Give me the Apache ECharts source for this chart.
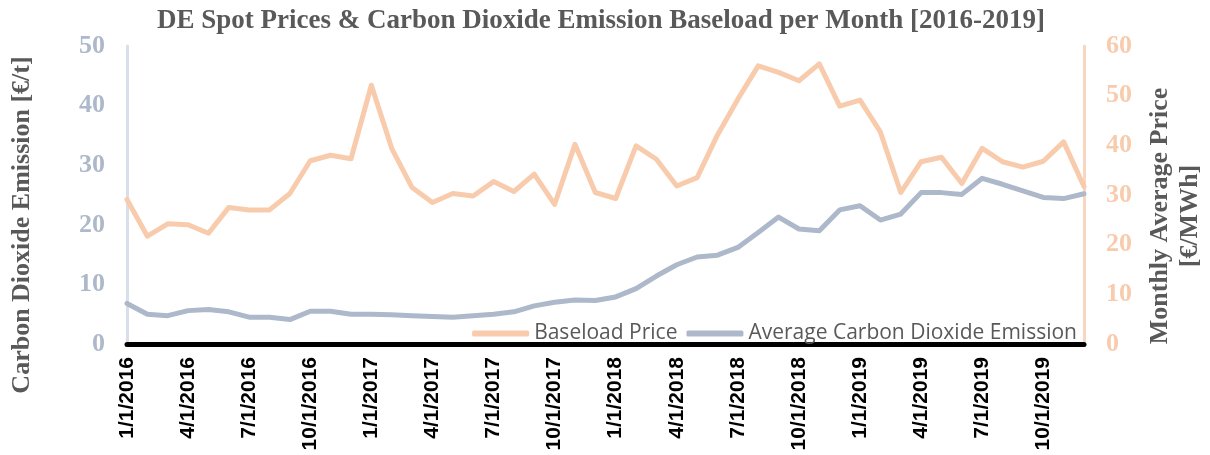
<!DOCTYPE html>
<html>
<head>
<meta charset="utf-8">
<script src="https://cdn.jsdelivr.net/npm/echarts@6/dist/echarts.min.js"></script>
<style>
  html, body { margin: 0; padding: 0; background: #fff; }
  #chart { width: 1210px; height: 455px; }
</style>
</head>
<body>
<div id="chart"></div>
<script>
// Month labels (first day of each month, 2016-2019)
const months = [
  '1/1/2016','2/1/2016','3/1/2016','4/1/2016','5/1/2016','6/1/2016','7/1/2016','8/1/2016','9/1/2016','10/1/2016','11/1/2016','12/1/2016',
  '1/1/2017','2/1/2017','3/1/2017','4/1/2017','5/1/2017','6/1/2017','7/1/2017','8/1/2017','9/1/2017','10/1/2017','11/1/2017','12/1/2017',
  '1/1/2018','2/1/2018','3/1/2018','4/1/2018','5/1/2018','6/1/2018','7/1/2018','8/1/2018','9/1/2018','10/1/2018','11/1/2018','12/1/2018',
  '1/1/2019','2/1/2019','3/1/2019','4/1/2019','5/1/2019','6/1/2019','7/1/2019','8/1/2019','9/1/2019','10/1/2019','11/1/2019','12/1/2019'
];

// Monthly average baseload spot price [€/MWh]
const baseloadPrice = [
  29.1, 21.7, 24.2, 24.0, 22.3, 27.5, 27.0, 27.0, 30.3, 36.9, 38.0, 37.3,
  52.1, 39.4, 31.5, 28.5, 30.3, 29.8, 32.7, 30.7, 34.2, 28.1, 40.2, 30.5,
  29.3, 39.9, 37.2, 31.8, 33.5, 42.1, 49.3, 56.0, 54.7, 53.0, 56.4, 47.9,
  49.1, 42.7, 30.5, 36.7, 37.6, 32.3, 39.4, 36.7, 35.6, 36.8, 40.7, 31.7
];

// Average carbon dioxide emission price [€/t]
const co2Emission = [
  6.8, 5.0, 4.75, 5.6, 5.8, 5.4, 4.5, 4.5, 4.1, 5.5, 5.5, 5.0,
  5.0, 4.9, 4.75, 4.6, 4.5, 4.75, 5.0, 5.4, 6.4, 7.0, 7.4, 7.3,
  7.9, 9.3, 11.4, 13.3, 14.6, 14.9, 16.2, 18.7, 21.3, 19.3, 19.0, 22.5,
  23.2, 20.8, 21.8, 25.4, 25.4, 25.1, 27.8, 26.8, 25.7, 24.6, 24.4, 25.2
];

const ORANGE = '#f8cbad';
const BLUEGRAY = '#adb9ca';
const DARK = '#595959';
const SERIF = '"Liberation Serif", "Times New Roman", serif';

const chart = echarts.init(document.getElementById('chart'), null, { renderer: 'canvas' });

chart.setOption({
  animation: false,
  backgroundColor: '#ffffff',
  title: {
    text: 'DE Spot Prices & Carbon Dioxide Emission Baseload per Month [2016-2019]',
    left: 152,
    top: 3,
    textStyle: { fontFamily: SERIF, fontWeight: 'bold', fontSize: 27, color: DARK }
  },
  grid: { left: 127, right: 126, top: 46, bottom: 111, containLabel: false },
  legend: {
    right: 128,
    top: 318,
    itemGap: 9,
    itemWidth: 57,
    itemHeight: 6,
    icon: 'roundRect',
    textStyle: { fontFamily: '"Open Sans", sans-serif', fontSize: 21, color: DARK },
    data: ['Baseload Price', 'Average Carbon Dioxide Emission']
  },
  xAxis: {
    type: 'category',
    data: months,
    boundaryGap: false,
    axisLine: { show: true, lineStyle: { color: '#000000', width: 5 } },
    axisTick: { show: false },
    axisLabel: {
      interval: 2,
      rotate: 90,
      margin: 13,
      fontFamily: '"Liberation Sans", Arial, sans-serif',
      fontWeight: 'bold',
      fontSize: 21,
      color: '#000000'
    },
    splitLine: { show: false }
  },
  yAxis: [
    {
      type: 'value',
      min: 0,
      max: 50,
      interval: 10,
      axisLine: { show: true, lineStyle: { color: '#d9dfe8', width: 3 } },
      axisTick: { show: false },
      splitLine: { show: false },
      axisLabel: {
        margin: 22,
        fontFamily: SERIF,
        fontWeight: 'bold',
        fontSize: 26,
        color: BLUEGRAY
      }
    },
    {
      type: 'value',
      min: 0,
      max: 60,
      interval: 10,
      position: 'right',
      axisLine: { show: true, lineStyle: { color: '#f9d6bf', width: 3 } },
      axisTick: { show: false },
      splitLine: { show: false },
      axisLabel: {
        margin: 22,
        fontFamily: SERIF,
        fontWeight: 'bold',
        fontSize: 26,
        color: ORANGE
      }
    }
  ],
  series: [
    {
      name: 'Baseload Price',
      type: 'line',
      yAxisIndex: 1,
      data: baseloadPrice,
      symbol: 'none',
      smooth: false,
      lineStyle: { color: ORANGE, width: 5, cap: 'round', join: 'round' },
      itemStyle: { color: ORANGE }
    },
    {
      name: 'Average Carbon Dioxide Emission',
      type: 'line',
      yAxisIndex: 0,
      data: co2Emission,
      symbol: 'none',
      smooth: false,
      lineStyle: { color: BLUEGRAY, width: 5, cap: 'round', join: 'round' },
      itemStyle: { color: BLUEGRAY }
    }
  ],
  graphic: [
    {
      type: 'text',
      x: 22,
      y: 225,
      rotation: Math.PI / 2,
      style: {
        text: 'Carbon Dioxide Emission [€/t]',
        font: 'bold 26px ' + SERIF,
        fill: DARK,
        align: 'center',
        verticalAlign: 'middle'
      }
    },
    {
      type: 'text',
      x: 1175,
      y: 216,
      rotation: Math.PI / 2,
      style: {
        text: 'Monthly Average Price\n[€/MWh]',
        font: 'bold 26px ' + SERIF,
        lineHeight: 30,
        fill: DARK,
        align: 'center',
        verticalAlign: 'middle'
      }
    }
  ]
});
</script>
</body>
</html>
